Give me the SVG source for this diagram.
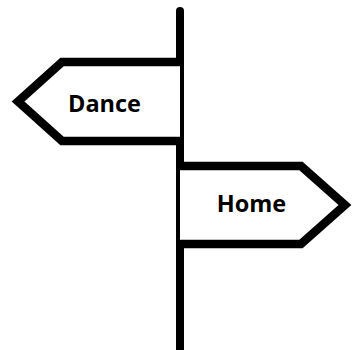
<svg xmlns="http://www.w3.org/2000/svg" width="352" height="350" viewBox="0 0 352 350">
<style>
.sign{fill:#fff;stroke:#000;stroke-width:8.5;stroke-miterlimit:10;stroke-linejoin:miter}
.lbl{font-family:"Open Sans","Noto Sans","DejaVu Sans",sans-serif;font-weight:bold;font-size:23.5px;fill:#000;text-anchor:middle}
.pole{stroke:#000;stroke-width:8;stroke-linecap:round;fill:none}
</style>
<rect width="352" height="350" fill="#fff"/>
<g id="connectors">
<line class="pole" x1="180" y1="11" x2="180" y2="356"/>
</g>
<g id="dance">
<path class="sign" d="M180,62 L62,62 L18,101.5 L62,141 L180,141"/>
<text class="lbl" x="104.5" y="112">Dance</text>
</g>
<g id="home">
<path class="sign" d="M180,166 L301,166 L345,205 L301,244 L180,244"/>
<text class="lbl" x="251.5" y="212">Home</text>
</g>
</svg>
